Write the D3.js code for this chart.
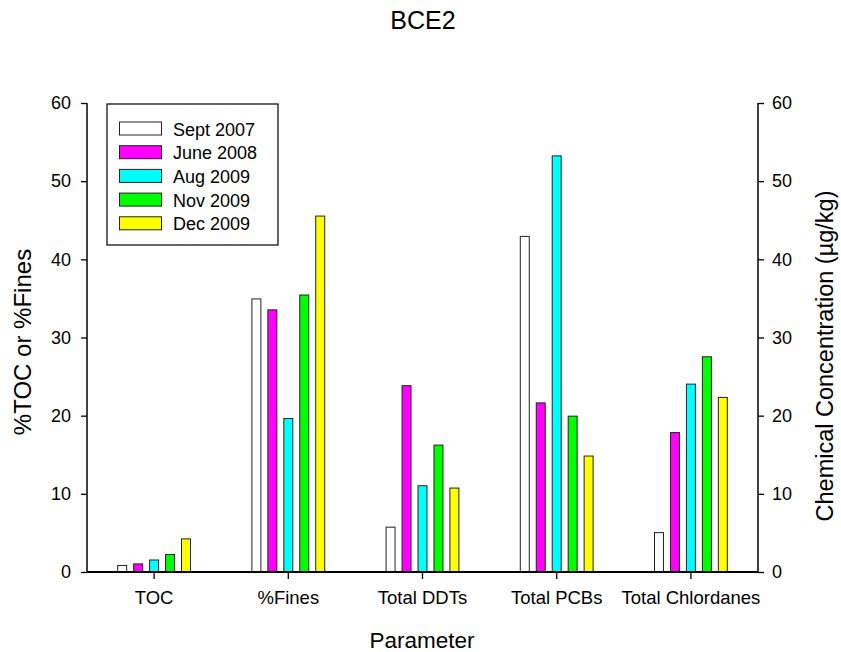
<!DOCTYPE html>
<html>
<head>
<meta charset="utf-8">
<script src="https://cdn.jsdelivr.net/npm/d3@7"></script>
<style>
  body { margin: 0; background: #fff; }
  svg text { font-family: "Liberation Sans", Arial, sans-serif; fill: #000; }
</style>
</head>
<body>
<div id="chart"></div>
<script>
// data
var categories = ['TOC', '%Fines', 'Total DDTs', 'Total PCBs', 'Total Chlordanes'];
var seriesNames = ['Sept 2007', 'June 2008', 'Aug 2009', 'Nov 2009', 'Dec 2009'];
var seriesColors = ['#ffffff', '#ff00ff', '#00ffff', '#00ff00', '#ffff00'];
var sept2007 = [0.9, 35.0, 5.8, 43.0, 5.1];
var june2008 = [1.1, 33.6, 23.9, 21.7, 17.9];
var aug2009 = [1.6, 19.7, 11.1, 53.3, 24.1];
var nov2009 = [2.3, 35.5, 16.3, 20.0, 27.6];
var dec2009 = [4.3, 45.6, 10.8, 14.9, 22.4];
var yTicks = [0, 10, 20, 30, 40, 50, 60];

var seriesValues = [sept2007, june2008, aug2009, nov2009, dec2009];

var W = 841, H = 652;
var margin = {top: 103, right: 83, bottom: 80, left: 87};
var width = W - margin.left - margin.right,
    height = H - margin.top - margin.bottom;

var svg = d3.select('#chart').append('svg')
    .attr('width', W)
    .attr('height', H);

var g = svg.append('g')
    .attr('transform', 'translate(' + margin.left + ',' + margin.top + ')');

var x0 = d3.scaleBand()
    .domain(categories)
    .range([0, width])
    .paddingInner(0.45)
    .paddingOuter(0.225);

var x1 = d3.scaleBand()
    .domain(seriesNames)
    .range([0, x0.bandwidth()])
    .paddingInner(0.375)
    .paddingOuter(0);

var yLeft = d3.scaleLinear().domain([0, 60]).range([height, 0]);
var yRight = d3.scaleLinear().domain([0, 60]).range([height, 0]);

var colorScale = d3.scaleOrdinal().domain(seriesNames).range(seriesColors);

// bars
var rows = categories.map(function(c, i){
    return {
        cat: c,
        values: seriesNames.map(function(s, j){
            return {group: s, value: seriesValues[j][i]};
        })
    };
});

var slice = g.selectAll('.slice')
    .data(rows)
    .enter().append('g')
    .attr('class', 'slice')
    .attr('transform', function(d){ return 'translate(' + x0(d.cat) + ',0)'; });

slice.selectAll('rect')
    .data(function(d){ return d.values; })
    .enter().append('rect')
    .attr('x', function(d){ return x1(d.group) + 0.5; })
    .attr('width', x1.bandwidth() - 1)
    .attr('y', function(d){ return yLeft(d.value) + 0.5; })
    .attr('height', function(d){ return Math.max(0, yLeft(0) - yLeft(d.value) - 0.5); })
    .style('fill', function(d){ return colorScale(d.group); })
    .style('stroke', '#222')
    .style('stroke-width', 1);

// axes
var leftAxis = d3.axisLeft(yLeft).tickValues(yTicks).tickSize(6).tickPadding(10);
var rightAxis = d3.axisRight(yRight).tickValues(yTicks).tickSize(6).tickPadding(8);
var xAxis = d3.axisBottom(x0).tickSize(7).tickPadding(12);

function styleAxis(sel, fs){
    sel.select('.domain').remove();
    sel.selectAll('line').attr('stroke', '#000').attr('stroke-width', 1.3);
    sel.selectAll('text').style('font-size', fs + 'px')
        .style('font-family', '"Liberation Sans", Arial, sans-serif');
}

g.append('g').call(leftAxis).call(styleAxis, 18);
g.append('g').attr('transform', 'translate(' + width + ',0)')
    .call(rightAxis).call(styleAxis, 18);
g.append('g').attr('transform', 'translate(0,' + height + ')')
    .call(xAxis).call(styleAxis, 18.5);

// axis frame lines
g.append('line').attr('x1', 0).attr('x2', 0).attr('y1', 0).attr('y2', height)
    .attr('stroke', '#000').attr('stroke-width', 1.5);
g.append('line').attr('x1', width).attr('x2', width).attr('y1', 0).attr('y2', height)
    .attr('stroke', '#000').attr('stroke-width', 1.5);
g.append('line').attr('x1', 0).attr('x2', width).attr('y1', height).attr('y2', height)
    .attr('stroke', '#000').attr('stroke-width', 2);

// titles
svg.append('text')
    .attr('x', 423).attr('y', 29)
    .attr('text-anchor', 'middle')
    .style('font-size', '25px')
    .text('BCE2');

svg.append('text')
    .attr('x', 422).attr('y', 648)
    .attr('text-anchor', 'middle')
    .style('font-size', '22.5px')
    .text('Parameter');

svg.append('text')
    .attr('transform', 'translate(31,342) rotate(-90)')
    .attr('text-anchor', 'middle')
    .style('font-size', '24px')
    .text('%TOC or %Fines');

svg.append('text')
    .attr('transform', 'translate(833,356) rotate(-90)')
    .attr('text-anchor', 'middle')
    .style('font-size', '23.5px')
    .text('Chemical Concentration (\u00b5g/kg)');

// legend
var legend = svg.append('g').attr('transform', 'translate(107,104)');
legend.append('rect')
    .attr('x', 0).attr('y', 0)
    .attr('width', 171).attr('height', 141)
    .style('fill', '#fff').style('stroke', '#000').style('stroke-width', 1.2);

var item = legend.selectAll('.item')
    .data(seriesNames)
    .enter().append('g')
    .attr('class', 'item')
    .attr('transform', function(d, i){ return 'translate(0,' + (17.5 + i * 23.7) + ')'; });

item.append('rect')
    .attr('x', 12.5).attr('y', 0.5)
    .attr('width', 42).attr('height', 13)
    .style('fill', function(d){ return colorScale(d); })
    .style('stroke', '#222').style('stroke-width', 1);

item.append('text')
    .attr('x', 66).attr('y', 14)
    .style('font-size', '18px')
    .text(function(d){ return d; });
</script>
</body>
</html>
